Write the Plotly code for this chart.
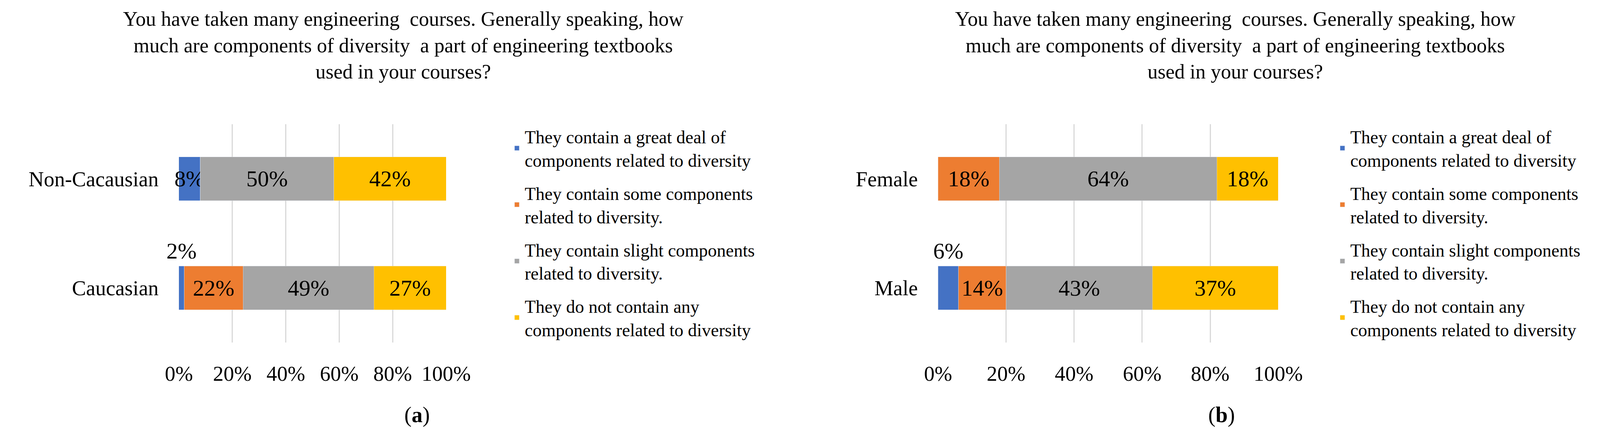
import plotly.graph_objects as go

cats_a = ["Caucasian", "Non-Cacausian"]
cats_b = ["Male", "Female"]
series = ["They contain a great deal of<br>components related to diversity",
          "They contain some components<br>related to diversity.",
          "They contain slight components<br>related to diversity.",
          "They do not contain any<br>components related to diversity"]
colors = ["#4472C4", "#ED7D31", "#A5A5A5", "#FFC000"]
vals_a = [[2, 8], [22, 0], [49, 50], [27, 42]]
vals_b = [[6, 0], [14, 18], [43, 64], [37, 18]]
ticks = [0, 20, 40, 60, 80, 100]
tick_text = ["0%", "20%", "40%", "60%", "80%", "100%"]
title = "You have taken many engineering  courses. Generally speaking, how<br>much are components of diversity  a part of engineering textbooks<br>used in your courses?"
F = "'Liberation Serif', 'Times New Roman', serif"

fig = go.Figure()
small = []
for panel, (cats, vals, xa, ya, lg) in enumerate([(cats_a, vals_a, "x", "y", "legend"),
                                                  (cats_b, vals_b, "x2", "y2", "legend2")]):
    for i, s in enumerate(series):
        v = vals[i]
        txt = []
        for j, val in enumerate(v):
            if val == 0 or (i == 0 and j == 0):
                txt.append("")
            else:
                txt.append(f"{val}%")
        for j, val in enumerate(v):
            if i == 0 and val > 0 and txt[j] == "":
                small.append((xa, ya, val, cats[j]))
        fig.add_trace(go.Bar(y=cats, x=v, name=s, orientation="h", marker_color=colors[i],
                             text=txt, textposition="inside", insidetextanchor="middle",
                             textangle=0,
                             textfont=dict(family=F, size=58, color="black"),
                             constraintext="none", cliponaxis=False,
                             xaxis=xa, yaxis=ya, legend=lg, legendgroup=f"{panel}{i}"))

for xa, ya, val, cat in small:
    fig.add_annotation(x=val / 2, y=cat, xref=xa, yref=ya, text=f"{val}%", showarrow=False,
                       yshift=95, font=dict(family=F, size=58, color="black"))

for cx, cap in [(1013, "(<b>a</b>)"), (3195, "(<b>b</b>)")]:
    fig.add_annotation(x=cx / 4155, y=1 - 40 / 1142, xref="paper", yref="paper", text=title,
                       showarrow=False, yanchor="top", xanchor="center", align="center",
                       font=dict(family=F, size=52, color="black"), yshift=30)
    fig.add_annotation(x=cx / 4155, y=1 - 1088 / 1142, xref="paper", yref="paper", text=cap,
                       showarrow=False, font=dict(family=F, size=56, color="black"))

ax = dict(range=[0, 100], tickvals=ticks, ticktext=tick_text, showgrid=True, gridcolor="#D9D9D9",
          gridwidth=3, zeroline=False, ticks="outside", ticklen=32, tickcolor="rgba(0,0,0,0)",
          tickfont=dict(family=F, size=54, color="black"), fixedrange=True)
ay = dict(showgrid=False, ticks="outside", ticklen=40, tickcolor="rgba(0,0,0,0)",
          tickfont=dict(family=F, size=54, color="black"))
ydom = [1 - 869 / 1142, 1 - 310 / 1142]
leg = dict(font=dict(family=F, size=46, color="black"), yanchor="top", xanchor="left",
           tracegroupgap=22, bgcolor="rgba(0,0,0,0)", itemwidth=30)
fig.update_layout(
    width=4155, height=1142, margin=dict(l=0, r=0, t=0, b=0),
    font=dict(family=F, color="black"),
    paper_bgcolor="white", plot_bgcolor="white", barmode="stack", bargap=0.6,
    xaxis=dict(domain=[424 / 4155, 1125 / 4155], anchor="y", **ax),
    xaxis2=dict(domain=[2415 / 4155, 3307 / 4155], anchor="y2", **ax),
    yaxis=dict(domain=ydom, anchor="x", **ay),
    yaxis2=dict(domain=ydom, anchor="x2", **ay),
    legend=dict(x=1290 / 4155, y=1 - 305 / 1142, **leg),
    legend2=dict(x=3455 / 4155, y=1 - 305 / 1142, **leg),
    uniformtext=dict(minsize=10, mode="show"),
)
fig.write_html("out.html")
